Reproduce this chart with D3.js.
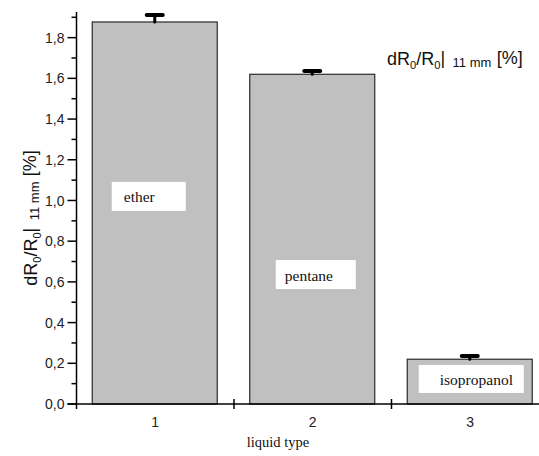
<!DOCTYPE html>
<html>
<head>
<meta charset="utf-8">
<script src="https://cdn.jsdelivr.net/npm/d3@7"></script>
<style>
  html, body { margin: 0; padding: 0; background: #fff; }
  svg { display: block; }
</style>
</head>
<body>
<svg id="chart" width="539" height="456"></svg>
<script>
// Relative resistance change at 11 mm for three liquids
const categories = ["1", "2", "3"];
const liquids = ["ether", "pentane", "isopropanol"];
const values = [1.877, 1.620, 0.220];
const errors = [0.034, 0.016, 0.016];
const yTicks = [0, 0.2, 0.4, 0.6, 0.8, 1.0, 1.2, 1.4, 1.6, 1.8];
const yMinorTicks = [0.1, 0.3, 0.5, 0.7, 0.9, 1.1, 1.3, 1.5, 1.7, 1.9];
// value at which each liquid's label box is centred
const labelValues = [1.02, 0.636, 0.123];

const svg = d3.select("#chart");
const x0 = 76.5, yBase = 404, yTop = 12;

const y = d3.scaleLinear().domain([0, 1.926]).range([yBase, yTop]);
const x = d3.scaleBand().domain(categories).range([x0, x0 + 3 * 157.5]).paddingInner(0.2).paddingOuter(0.1);

const fmt = d => d.toFixed(1).replace(".", ",");

// bars
svg.append("g").selectAll("rect").data(values).join("rect")
  .attr("x", (d, i) => x(categories[i]))
  .attr("y", d => y(d))
  .attr("width", x.bandwidth() - 1)
  .attr("height", d => yBase - y(d))
  .attr("fill", "#c0c0c0")
  .attr("stroke", "#2a2a2a")
  .attr("stroke-width", 1.2);

// error bars (upper only)
const eb = svg.append("g").attr("stroke", "#000").attr("stroke-linecap", "round");
values.forEach((v, i) => {
  const cx = x(categories[i]) + x.bandwidth() / 2 - 0.5;
  eb.append("line").attr("x1", cx).attr("x2", cx)
    .attr("y1", y(v)).attr("y2", y(v + errors[i])).attr("stroke-width", 3);
  eb.append("line").attr("x1", cx - 8).attr("x2", cx + 8)
    .attr("y1", y(v + errors[i])).attr("y2", y(v + errors[i])).attr("stroke-width", 4);
});

// white label boxes inside bars
const boxes = [
  { w: 74, h: 29, dx: -43.5, tx: 12, ty: 20 },
  { w: 80, h: 29, dx: -37, tx: 9, ty: 21 },
  { w: 105, h: 28, dx: -51.5, tx: 21, ty: 20 }
];
liquids.forEach((name, i) => {
  const cx = x(categories[i]) + x.bandwidth() / 2;
  const b = boxes[i];
  const top = y(labelValues[i]) - b.h / 2;
  svg.append("rect").attr("x", cx + b.dx).attr("y", top)
    .attr("width", b.w).attr("height", b.h).attr("fill", "#fff");
  svg.append("text").attr("x", cx + b.dx + b.tx).attr("y", top + b.ty)
    .attr("font-family", "Liberation Serif, Times New Roman, serif")
    .attr("font-size", 15.5).attr("fill", "#111").text(name);
});

// y axis
const yAxis = svg.append("g").attr("transform", `translate(${x0},0)`);
yAxis.append("line").attr("x1", 0).attr("x2", 0).attr("y1", yTop).attr("y2", yBase + 5)
  .attr("stroke", "#000").attr("stroke-width", 1.5);
yAxis.selectAll(".maj").data(yTicks).join("line").attr("class", "maj")
  .attr("x1", -9).attr("x2", 0).attr("y1", d => y(d)).attr("y2", d => y(d))
  .attr("stroke", "#000").attr("stroke-width", 1.5);
yAxis.selectAll(".min").data(yMinorTicks).join("line").attr("class", "min")
  .attr("x1", -5).attr("x2", 0).attr("y1", d => y(d)).attr("y2", d => y(d))
  .attr("stroke", "#000").attr("stroke-width", 1.5);
yAxis.selectAll("text").data(yTicks).join("text")
  .attr("x", -12).attr("y", d => y(d)).attr("dy", "0.36em")
  .attr("text-anchor", "end")
  .attr("font-family", "Liberation Sans, Arial, sans-serif")
  .attr("font-size", 14).attr("fill", "#222").text(fmt);

// x axis
const xAxis = svg.append("g");
xAxis.append("line").attr("x1", x0 - 9).attr("x2", 539).attr("y1", yBase).attr("y2", yBase)
  .attr("stroke", "#000").attr("stroke-width", 1.5);
const sep = [categories[1], categories[2]].map(c => x(c) - x.step() * x.paddingInner() / 2);
xAxis.selectAll(".sep").data(sep).join("line").attr("class", "sep")
  .attr("x1", d => d).attr("x2", d => d).attr("y1", yBase - 5).attr("y2", yBase + 5)
  .attr("stroke", "#000").attr("stroke-width", 1.5);
xAxis.selectAll("text").data(categories).join("text")
  .attr("x", d => x(d) + x.bandwidth() / 2).attr("y", yBase + 23)
  .attr("text-anchor", "middle")
  .attr("font-family", "Liberation Sans, Arial, sans-serif")
  .attr("font-size", 14).attr("fill", "#222").text(d => d);

svg.append("text").attr("x", 278).attr("y", 447).attr("text-anchor", "middle")
  .attr("font-family", "Liberation Serif, Times New Roman, serif")
  .attr("font-size", 14.5).attr("fill", "#111").text("liquid type");

// quantity label: dR0/R0|11 mm [%]
function quantity(sel) {
  sel.append("tspan").text("dR");
  sel.append("tspan").attr("font-size", "0.62em").attr("dy", "0.36em").text("0");
  sel.append("tspan").attr("dy", "-0.24em").text("/R");
  sel.append("tspan").attr("font-size", "0.62em").attr("dy", "0.36em").text("0");
  sel.append("tspan").attr("dy", "-0.24em").text("|");
  sel.append("tspan").attr("font-size", "0.72em").attr("dy", "0.22em").attr("dx", "0.3em").text(" 11 mm ");
  sel.append("tspan").attr("dy", "-0.16em").attr("dx", "0.1em").text("[%]");
}

const yl = svg.append("text")
  .attr("transform", "translate(37,218) rotate(-90)")
  .attr("text-anchor", "middle")
  .attr("font-family", "Liberation Sans, Arial, sans-serif")
  .attr("font-size", 18).attr("fill", "#111");
quantity(yl);

const tl = svg.append("text").attr("x", 387).attr("y", 65)
  .attr("font-family", "Liberation Sans, Arial, sans-serif")
  .attr("font-size", 18).attr("fill", "#111");
quantity(tl);
</script>
</body>
</html>
